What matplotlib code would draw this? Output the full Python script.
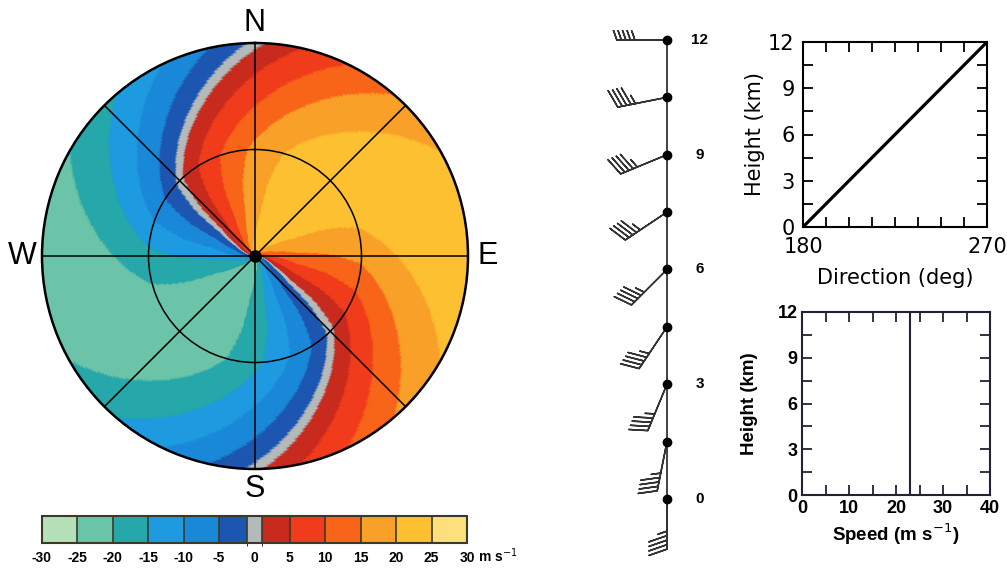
import numpy as np
import matplotlib
matplotlib.use('Agg')
import matplotlib.pyplot as plt
from matplotlib.colors import ListedColormap, BoundaryNorm
from matplotlib.cm import ScalarMappable
from matplotlib.ticker import MultipleLocator

# wind profile (height, direction wind blows from, speed)
heights_km = [0, 1.5, 3, 4.5, 6, 7.5, 9, 10.5, 12]
directions_deg = [180, 191.25, 202.5, 213.75, 225, 236.25, 247.5, 258.75, 270]
speeds_ms = [23, 23, 23, 23, 23, 23, 23, 23, 23]

# beam height against fraction of the PPI radius
ppi_range_frac = [0, 0.04, 0.1, 0.2, 0.35, 0.5, 0.75, 1.0]
ppi_height_km = [0, 2.4, 4.0, 4.9, 5.3, 6.0, 9.1, 12.0]

# radial velocity colour scale
vel_bounds = [-30, -25, -20, -15, -10, -5, -1, 1, 5, 10, 15, 20, 25, 30]
vel_colors = ['#b6e0b8', '#6cc4a8', '#26a8aa', '#1e9be0', '#1a88d8', '#1c56b0',
              '#b4baba', '#c82a1e', '#f03c1a', '#f86418', '#f8a028', '#fcc030',
              '#fde07c']
vel_ticks = [-30, -25, -20, -15, -10, -5, 0, 5, 10, 15, 20, 25, 30]
compass = ['N', '', 'E', '', 'S', '', 'W', '']
barb_labels = [0, 3, 6, 9, 12]

W, H = 1007, 574


def fx(px):
    return px / W


def fy(px):
    return 1 - px / H


def main():
    fig = plt.figure(figsize=(W / 100, H / 100), dpi=100)
    cmap = ListedColormap(vel_colors)
    norm = BoundaryNorm(vel_bounds, cmap.N)

    # --- PPI of radial velocity ---
    ax = fig.add_axes([fx(42), fy(469), 426 / W, 426 / H], projection='polar')
    ax.set_theta_zero_location('N')
    ax.set_theta_direction(-1)
    az = np.linspace(0, 360, 361)
    rr = np.linspace(0, 1, 201)
    AZ, RR = np.meshgrid(az, rr)
    hgt = np.interp(RR, ppi_range_frac, ppi_height_km)
    wdir = np.interp(hgt, heights_km, directions_deg)
    wspd = np.interp(hgt, heights_km, speeds_ms)
    vr = -wspd * np.cos(np.radians(AZ - wdir))
    ax.pcolormesh(np.radians(AZ), RR, vr, cmap=cmap, norm=norm, shading='gouraud')
    ax.set_ylim(0, 1)
    ax.set_thetagrids(range(0, 360, 45), labels=compass,
                      fontsize=22, family='Liberation Sans')
    ax.set_rgrids([0.5], labels=[''])
    ax.grid(color='black', lw=1.1)
    ax.tick_params(axis='x', pad=4)
    ax.spines['polar'].set_linewidth(1.8)
    ax.plot(0, 0, 'o', color='black', ms=8)

    # --- colour bar ---
    cax = fig.add_axes([fx(42), fy(543), 425 / W, 27 / H])
    cb = fig.colorbar(ScalarMappable(norm=norm, cmap=cmap), cax=cax,
                      orientation='horizontal', spacing='proportional',
                      drawedges=True, ticks=vel_ticks)
    cb.outline.set_linewidth(1.5)
    cb.outline.set_edgecolor('#3a3a2a')
    cb.dividers.set_color('#3a3a2a')
    cb.dividers.set_linewidth(1.2)
    cax.tick_params(length=0, pad=6)
    cax.set_xticklabels([str(t) for t in vel_ticks], fontsize=10,
                        fontweight='bold', family='Liberation Sans')
    fig.text(fx(478), fy(556), 'm s$^{-1}$', fontsize=10, fontweight='bold',
             family='Liberation Sans', va='center', ha='left')

    # --- wind barbs ---
    axb = fig.add_axes([fx(600), fy(560), 120 / W, 530 / H])
    axb.set_xlim(-67, 53)
    axb.set_ylim(-1.595, 12.26)
    axb.axis('off')
    axb.plot([0, 0], [heights_km[0], heights_km[-1]], color='#333333', lw=1.3)
    axb.plot(np.zeros(len(heights_km)), heights_km, 'o', color='black', ms=6)
    kt = np.array(speeds_ms) * 1.94384
    rad = np.radians(directions_deg)
    u = -kt * np.sin(rad)
    v = -kt * np.cos(rad)
    axb.barbs(np.zeros(len(heights_km)), heights_km, u, v, length=8.5,
              color='#333333', linewidth=1.1,
              sizes=dict(spacing=0.09, height=0.36, width=0.25))
    for h in barb_labels:
        axb.text(33, h, str(h), fontsize=11, fontweight='bold',
                 family='Liberation Sans', ha='center', va='center')

    # --- direction profile ---
    axd = fig.add_axes([fx(803), fy(227), 184 / W, 185 / H])
    axd.plot(directions_deg, heights_km, color='black', lw=2.3)
    axd.set_xlim(180, 270)
    axd.set_ylim(0, 12)
    axd.set_xticks([180, 270])
    axd.xaxis.set_minor_locator(MultipleLocator(11.25))
    axd.set_yticks([0, 3, 6, 9, 12])
    axd.yaxis.set_minor_locator(MultipleLocator(1.5))
    axd.tick_params(which='both', direction='in', top=True, right=True,
                    length=7, width=1.3, labelsize=15)
    axd.tick_params(axis='x', pad=7)
    axd.tick_params(axis='y', pad=6)
    axd.set_xlabel('Direction (deg)', fontsize=15, labelpad=8)
    axd.set_ylabel('Height (km)', fontsize=15, labelpad=2)
    for s in axd.spines.values():
        s.set_linewidth(1.5)

    # --- speed profile ---
    axs = fig.add_axes([fx(802), fy(495), 188 / W, 183 / H])
    axs.plot(speeds_ms, heights_km, color='#222233', lw=1.5)
    axs.set_xlim(0, 40)
    axs.set_ylim(0, 12)
    axs.set_xticks([0, 10, 20, 30, 40])
    axs.xaxis.set_minor_locator(MultipleLocator(5))
    axs.set_yticks([0, 3, 6, 9, 12])
    axs.yaxis.set_minor_locator(MultipleLocator(1.5))
    axs.tick_params(which='both', direction='in', top=True, right=True,
                    length=7, width=1.3, color='#222233')
    axs.tick_params(axis='y', pad=3)
    for lab in axs.get_xticklabels() + axs.get_yticklabels():
        lab.set_fontsize(13)
        lab.set_fontweight('bold')
        lab.set_family('Liberation Sans')
    axs.set_xlabel('Speed (m s$^{-1}$)', fontsize=13.5, fontweight='bold',
                   family='Liberation Sans', labelpad=3)
    axs.set_ylabel('Height (km)', fontsize=13.5, fontweight='bold',
                   family='Liberation Sans', labelpad=14)
    for s in axs.spines.values():
        s.set_linewidth(1.5)
        s.set_edgecolor('#222233')

    fig.savefig('out.png', dpi=100)


if __name__ == '__main__':
    main()
